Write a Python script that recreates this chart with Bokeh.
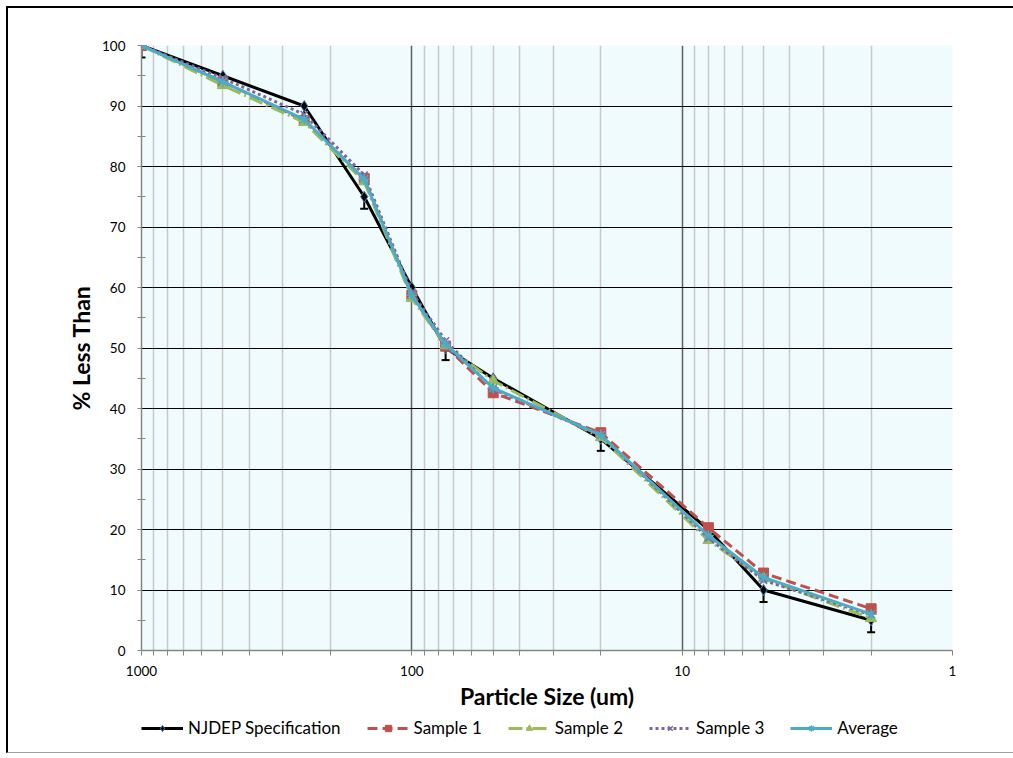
from bokeh.plotting import figure
from bokeh.layouts import column
from bokeh.models import (Range1d, FixedTicker, PrintfTickFormatter, Legend, LegendItem,
                          Whisker, TeeHead, ColumnDataSource)
from bokeh.embed import file_html
from bokeh.resources import INLINE

# ---- data ----
sizes = [1000, 500, 250, 150, 100, 75, 50, 20, 8, 5, 2]
njdep = [100, 95, 90, 75, 60, 50, 45, 35, 20, 10, 5]
njdep_err = [2, 2, 2, 2, 2, 2, 2, 2, 2, 2, 2]
sample1 = [100, 94.0, 87.6, 78.0, 58.7, 50.3, 42.6, 36.0, 20.3, 12.8, 6.9]
sample2 = [100, 93.4, 87.3, 77.5, 58.2, 50.4, 44.6, 35.2, 18.2, 11.9, 5.3]
sample3 = [100, 94.6, 88.6, 78.6, 59.2, 51.2, 43.2, 35.6, 18.6, 11.6, 5.9]
average = [100, 94.0, 87.8, 77.9, 58.7, 50.6, 43.4, 35.6, 19.0, 12.1, 6.0]
labels = ["NJDEP Specification", "Sample 1", "Sample 2", "Sample 3", "Average"]

x_major = [1, 10, 100, 1000]
x_minor = [m * d for d in (1, 10, 100) for m in range(2, 10)]
y_major = list(range(0, 101, 10))
y_minor = list(range(5, 100, 10))

FONT = "Lato"

p = figure(frame_width=811, frame_height=605,
           x_axis_type="log",
           x_range=Range1d(1000, 1), y_range=Range1d(0, 100),
           output_backend="svg", toolbar_location=None,
           min_border_left=133, min_border_right=61,
           min_border_top=37, min_border_bottom=62,
           background_fill_color="#F0FBFD", border_fill_color="white",
           outline_line_color=None)

# ticks / grid
xt = FixedTicker(ticks=x_major, minor_ticks=x_minor)
yt = FixedTicker(ticks=y_major, minor_ticks=y_minor)
p.xaxis.ticker = xt
p.xgrid.ticker = xt
p.yaxis.ticker = yt
p.ygrid.ticker = yt
p.xaxis.formatter = PrintfTickFormatter(format="%d")

p.xgrid.grid_line_color = "#5f5f5f"
p.xgrid.grid_line_width = 1.5
p.xgrid.minor_grid_line_color = "#c8c8c8"
p.xgrid.minor_grid_line_width = 1.5
p.ygrid.grid_line_color = "black"
p.ygrid.grid_line_width = 1

for ax in (p.xaxis[0], p.yaxis[0]):
    ax.axis_line_color = "#868686"
    ax.axis_line_width = 1.5
    ax.major_tick_line_color = "#868686"
    ax.minor_tick_line_color = "#868686"
    ax.major_label_text_font = FONT
    ax.major_label_text_font_size = "13.5px"
    ax.major_label_text_color = "black"
    ax.axis_label_text_font = FONT
    ax.axis_label_text_font_style = "bold"
    ax.axis_label_text_font_size = "23px"
    ax.axis_label_text_color = "black"

p.xaxis.major_tick_in = 0
p.xaxis.major_tick_out = 5
p.xaxis.minor_tick_in = 0
p.xaxis.minor_tick_out = 5
p.xaxis.major_label_standoff = 10
p.xaxis.axis_label = "Particle Size (um)"
p.xaxis.axis_label_standoff = 3

p.yaxis.major_tick_in = 0
p.yaxis.major_tick_out = 4
p.yaxis.minor_tick_in = 4
p.yaxis.minor_tick_out = 4
p.yaxis.major_label_standoff = 12
p.yaxis.axis_label = "% Less Than"
p.yaxis.axis_label_standoff = 4

# error bars
err_src = ColumnDataSource(dict(x=sizes, upper=njdep,
                                lower=[v - e for v, e in zip(njdep, njdep_err)]))
w = Whisker(source=err_src, base="x", upper="upper", lower="lower",
            dimension="height", line_color="black", line_width=2,
            upper_head=None,
            lower_head=TeeHead(size=8, line_color="black", line_width=2))
p.add_layout(w)

# series styles
styles = [
    dict(color="black", dash="solid", marker="diamond", msize=11, fill="black", mline="#4F81BD", mw=1),
    dict(color="#C0504D", dash="10 5", marker="square", msize=10, fill="#C0504D", mline="#C0504D", mw=1),
    dict(color="#9BBB59", dash="14 4 2 4", marker="triangle", msize=11, fill="#9BBB59", mline="#9BBB59", mw=1),
    dict(color="#8064A2", dash="3 3", marker="x", msize=10, fill=None, mline="#8064A2", mw=1.5),
    dict(color="#4BACC6", dash="solid", marker="asterisk", msize=11, fill=None, mline="#4BACC6", mw=1.5),
]
series = [njdep, sample1, sample2, sample3, average]

for ys, st in zip(series, styles):
    p.line(sizes, ys, line_color=st["color"], line_width=3, line_dash=st["dash"])
    p.scatter(sizes, ys, marker=st["marker"], size=st["msize"], fill_color=st["fill"],
              line_color=st["mline"], line_width=st["mw"])

# legend strip (separate canvas below the chart); its renderers carry the same
# data but the strip's ranges keep them out of view, so only the legend shows
lg = figure(width=1005, height=40, x_range=Range1d(-2, -1), y_range=Range1d(-2, -1),
            output_backend="svg", toolbar_location=None,
            min_border_left=133, min_border_right=61, min_border_top=0, min_border_bottom=0,
            x_axis_location=None, y_axis_location=None,
            outline_line_color=None, background_fill_color="white",
            border_fill_color="white")
lg.xgrid.visible = False
lg.ygrid.visible = False
items = []
for lab, ys, st in zip(labels, series, styles):
    lr = lg.line(sizes, ys, line_color=st["color"], line_width=3, line_dash=st["dash"])
    mr = lg.scatter(sizes, ys, marker=st["marker"], size=st["msize"], fill_color=st["fill"],
                    line_color=st["mline"], line_width=st["mw"])
    items.append(LegendItem(label=lab, renderers=[lr, mr]))

legend = Legend(items=items, location=(0, 14), orientation="horizontal",
                glyph_width=42, glyph_height=16,
                label_text_font=FONT, label_text_font_size="17px", label_text_color="black",
                spacing=26, label_standoff=5, border_line_color=None,
                background_fill_alpha=0, padding=0, margin=0)
lg.add_layout(legend, "center")

layout = column(p, lg, spacing=0)
layout.styles = {"margin-left": "6px", "margin-top": "6px",
                 "border-left": "2px solid black", "border-top": "2px solid black",
                 "border-bottom": "1px solid #a0a0a0"}

open("out.html", "w").write(file_html(layout, INLINE))
